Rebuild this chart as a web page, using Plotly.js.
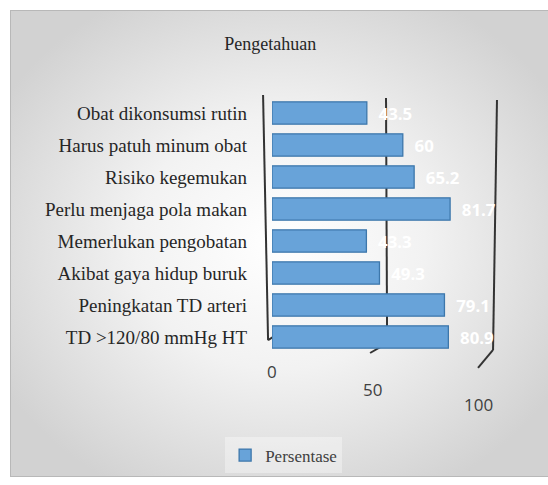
<!DOCTYPE html>
<html>
<head>
<meta charset="utf-8">
<script src="https://cdn.plot.ly/plotly-3.0.1.min.js"></script>
<style>
html,body{margin:0;padding:0;background:#fff;}
#wrap{position:relative;width:548px;height:485px;overflow:hidden;}
#bg{position:absolute;left:10px;top:10px;width:540px;height:467px;box-sizing:border-box;border:1px solid #b8b8b8;
background:radial-gradient(ellipse 60% 60% at 50% 50%, #ffffff 0%, #f2f2f2 45%, #d2d2d2 100%);}
#chart{position:absolute;left:0;top:0;width:548px;height:485px;}
</style>
</head>
<body>
<div id="wrap"><div id="bg"></div><div id="chart"></div></div>
<script>
const categories = [
  "Obat dikonsumsi rutin",
  "Harus patuh minum obat",
  "Risiko kegemukan",
  "Perlu menjaga pola makan",
  "Memerlukan pengobatan",
  "Akibat gaya hidup buruk",
  "Peningkatan TD arteri",
  "TD >120/80 mmHg HT"
];
const persentase = [43.5, 60, 65.2, 81.7, 43.3, 49.3, 79.1, 80.9];
const tickValues = [0, 50, 100];
const tickLabels = ["0", "50", "100"];
const seriesName = "Persentase";
const chartTitle = "Pengetahuan";

const serif = "Liberation Serif, Times New Roman, serif";
const sans = "Open Sans, Liberation Sans, sans-serif";

const trace = {
  type: "bar",
  orientation: "h",
  y: categories,
  x: persentase,
  name: seriesName,
  width: 0.7,
  marker: {color: "#68a3d9", line: {color: "#3d77ab", width: 1.3}},
  text: persentase.map(v => "  " + String(v)),
  textposition: "outside",
  textfont: {color: "#ffffff", family: sans, size: 18, weight: "bold"},
  cliponaxis: false,
  showlegend: true,
  hoverinfo: "skip"
};

const shifts = [0, -9, -12];
const yoff = [-0.02, -0.09, -0.15];
const tickAnnotations = tickValues.map((v, i) => ({
  x: v, xref: "x", y: yoff[i], yref: "paper",
  text: tickLabels[i], showarrow: false, xshift: shifts[i],
  xanchor: "center", yanchor: "top",
  font: {family: sans, size: 17, color: "#404040"}
}));

// back-wall gridlines imitating the 3-D frame (paper coordinates)
const wall = [
  {top: [-0.041, 1.008], bot: [-0.018, 0.05], foot: [0.046, 0.085]},
  {top: [0.523, 0.996], bot: [0.528, 0.039], foot: [0.45, 0.0]},
  {top: [1.032, 0.988], bot: [1.014, 0.012], foot: [0.945, -0.058]}
];
const gridShapes = [];
tickValues.forEach((v, i) => {
  const w = wall[i];
  gridShapes.push({
    type: "line", xref: "paper", yref: "paper", layer: "below",
    x0: w.top[0], y0: w.top[1], x1: w.bot[0], y1: w.bot[1],
    line: {color: "#333333", width: 2}
  });
  gridShapes.push({
    type: "line", xref: "paper", yref: "paper", layer: "below",
    x0: w.bot[0], y0: w.bot[1], x1: w.foot[0], y1: w.foot[1],
    line: {color: "#333333", width: 2}
  });
});

const layout = {
  width: 548, height: 485,
  margin: {l: 272, r: 58, t: 97, b: 130},
  paper_bgcolor: "rgba(0,0,0,0)",
  plot_bgcolor: "rgba(0,0,0,0)",
  title: {text: chartTitle, x: 0.493, xanchor: "center", y: 0.91, yanchor: "middle",
          font: {family: serif, size: 18, color: "#262626"}},
  xaxis: {range: [0, 100], tickvals: tickValues, showticklabels: false,
          showgrid: false, zeroline: false, showline: false, fixedrange: true},
  yaxis: {autorange: "reversed", showgrid: false, zeroline: false, showline: false,
          ticks: "", ticklabelstandoff: 24,
          tickfont: {family: serif, size: 19, color: "#262626"}},
  showlegend: true,
  legend: {orientation: "h", x: -0.215, xanchor: "left", y: -0.33, yanchor: "top",
           bgcolor: "rgba(255,255,255,0.35)",
           font: {family: serif, size: 17, color: "#404040"}},
  annotations: tickAnnotations,
  shapes: gridShapes
};

Plotly.newPlot("chart", [trace], layout, {displayModeBar: false, staticPlot: true});
</script>
</body>
</html>
